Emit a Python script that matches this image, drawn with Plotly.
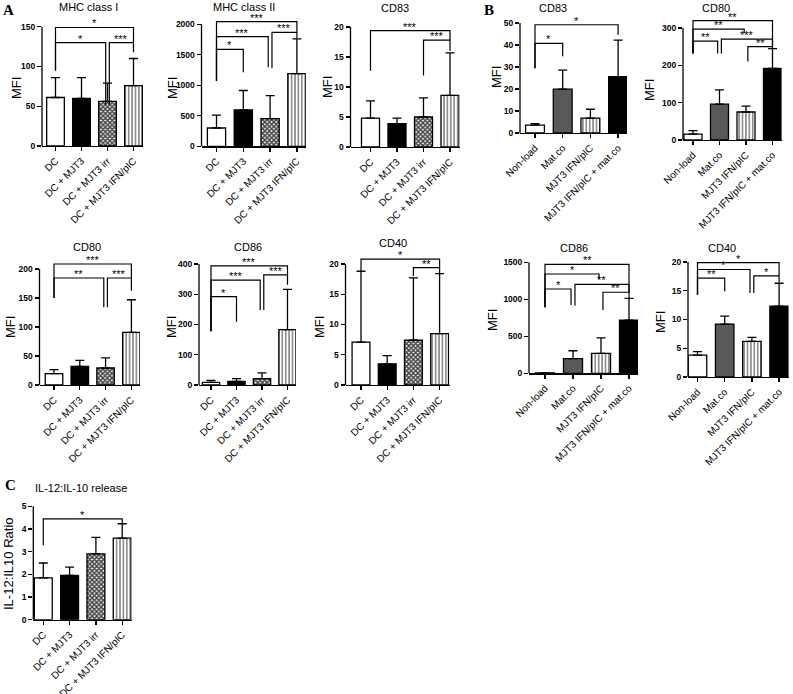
import plotly.graph_objects as go

W, H = 793, 694

# ---------------- data ----------------
cats_A = ["DC", "DC + MJT3", "DC + MJT3 irr", "DC + MJT3 IFN/pIC"]
cats_B = ["Non-load", "Mat.co", "MJT3 IFN/pIC", "MJT3 IFN/pIC + mat.co"]

# Panel A (MFI mean and upper error)
a_mhc1_mean = [61, 60, 56, 76]
a_mhc1_err = [25, 26, 23, 34]
a_mhc2_mean = [300, 595, 455, 1190]
a_mhc2_err = [212, 320, 377, 570]
a_cd83_mean = [4.8, 3.9, 5.0, 8.6]
a_cd83_err = [2.9, 0.9, 3.2, 7.1]
a_cd80_mean = [19.5, 32.2, 29.3, 90.8]
a_cd80_err = [6.9, 10.3, 17.3, 56.2]
a_cd86_mean = [9, 12, 21, 183]
a_cd86_err = [6, 9, 19, 133]
a_cd40_mean = [7.1, 3.5, 7.4, 8.5]
a_cd40_err = [11.7, 1.35, 10.3, 9.9]

# Panel B
b_cd83_mean = [3.6, 19.9, 6.8, 25.6]
b_cd83_err = [0.7, 8.7, 4.0, 16.6]
b_cd80_mean = [16, 96, 75, 192]
b_cd80_err = [9, 38, 16, 53]
b_cd86_mean = [5, 199, 270, 717]
b_cd86_err = [0, 106, 208, 296]
b_cd40_mean = [3.8, 9.2, 6.2, 12.3]
b_cd40_err = [0.6, 1.4, 0.7, 4.0]

# Panel C
c_ratio_mean = [1.84, 1.95, 2.9, 3.6]
c_ratio_err = [0.66, 0.37, 0.73, 0.63]

# significance brackets: (from bar, to bar, line level, left leg end, right leg end, label)
a_mhc1_sig = [(0, 3, 149, 95, 130, "*"), (0, 2, 130, 95, 52, "*"), (2, 3, 130, 52, 118, "***")]
a_mhc2_sig = [(0, 3, 2043, 1070, 1869, "***"), (0, 2, 1797, 1070, 1295, "***"),
              (0, 1, 1590, 1070, 1213, "*"), (2, 3, 1869, 1279, 1770, "***")]
a_cd83_sig = [(0, 3, 19.4, 12.7, 17.8, "***"), (2, 3, 17.8, 11.9, 16.0, "***")]
a_cd80_sig = [(0, 3, 208.6, 150, 184.5, "***"), (0, 2, 184.5, 150, 134, "**"),
              (2, 3, 184.5, 134, 162.6, "***")]
a_cd86_sig = [(0, 3, 394, 178, 364, "***"), (0, 2, 347, 178, 248, "***"),
              (0, 1, 292, 178, 209, "*"), (2, 3, 364, 248, 331, "***")]
a_cd40_sig = [(0, 3, 20.8, 18.8, 19.4, "*"), (2, 3, 19.4, 18.0, 18.4, "**")]
b_cd83_sig = [(0, 1, 40.7, 29.4, 34.9, "*"), (0, 3, 49.2, 29.4, 44.7, "*")]
b_cd80_sig = [(0, 3, 320, 232, 250, "**"), (0, 2, 297, 232, 286, "**"),
              (0, 1, 265, 232, 232, "**"), (1, 3, 270, 232, 250, "***"),
              (2, 3, 250, 210, 245, "**")]
b_cd86_sig = [(0, 3, 1473, 892, 1095, "**"), (0, 2, 1342, 892, 1274, "*"),
              (0, 1, 1139, 892, 923, "*"), (1, 3, 1203, 914, 1095, "**"),
              (2, 3, 1095, 855, 1014, "**")]
b_cd40_sig = [(0, 3, 19.9, 14.3, 17.6, "*"), (0, 2, 18.7, 14.3, 14.6, "*"),
              (0, 1, 17.2, 14.3, 14.9, "**"), (2, 3, 17.6, 14.6, 16.4, "*")]
c_ratio_sig = [(0, 3, 4.45, 3.28, 4.25, "*")]

# ---------------- styles ----------------
FONT = "Liberation Sans, Arial, Helvetica, sans-serif"
style_A = dict(colors=["white", "black", "white", "white"], shapes=["", "", "x", "|"],
               psize=[4, 4, 3.2, 3.4], psol=[0.3, 0.3, 0.7, 0.3])
style_B = dict(colors=["white", "#595959", "white", "black"], shapes=["", "", "|", ""],
               psize=[4, 4, 3.4, 4], psol=[0.3, 0.3, 0.3, 0.3])

# geometry in pixels: (y-axis x, first bar centre, bar spacing, x-axis end, y of 0, y of top tick)
panels = [
    dict(title="MHC class I", cats=cats_A, mean=a_mhc1_mean, err=a_mhc1_err, sig=a_mhc1_sig,
         ymax=150, dtick=50, style=style_A, geo=(42, 55.5, 26.0, 143, 146, 26.7),
         tpos=(88, 7), lpos=(16, 88), ylab="MFI", cfs=10),
    dict(title="MHC class II", cats=cats_A, mean=a_mhc2_mean, err=a_mhc2_err, sig=a_mhc2_sig,
         ymax=2000, dtick=500, style=style_A, geo=(201.5, 216.5, 26.8, 306, 146.3, 24.3),
         tpos=(244, 7), lpos=(172, 88), ylab="MFI", cfs=10),
    dict(title="CD83", cats=cats_A, mean=a_cd83_mean, err=a_cd83_err, sig=a_cd83_sig,
         ymax=20, dtick=5, style=style_A, geo=(350.5, 370.5, 26.5, 459.5, 147, 27),
         tpos=(395, 8), lpos=(328, 87), ylab="MFI", cfs=10),
    dict(title="CD83", cats=cats_B, mean=b_cd83_mean, err=b_cd83_err, sig=b_cd83_sig,
         ymax=50, dtick=10, style=style_B, geo=(520, 535, 27.7, 627, 133, 23),
         tpos=(553, 8), lpos=(496, 77), ylab="MFI", cfs=10),
    dict(title="CD80", cats=cats_B, mean=b_cd80_mean, err=b_cd80_err, sig=b_cd80_sig,
         ymax=300, dtick=100, style=style_B, geo=(683, 693, 26.5, 781.5, 140, 28),
         tpos=(716, 8), lpos=(649, 90), ylab="MFI", cfs=10),
    dict(title="CD80", cats=cats_A, mean=a_cd80_mean, err=a_cd80_err, sig=a_cd80_sig,
         ymax=200, dtick=50, style=style_A, geo=(39.5, 54, 25.8, 140, 385, 269),
         tpos=(87, 247), lpos=(11, 327), ylab="MFI", cfs=10),
    dict(title="CD86", cats=cats_A, mean=a_cd86_mean, err=a_cd86_err, sig=a_cd86_sig,
         ymax=400, dtick=100, style=style_A, geo=(199, 211, 25.5, 296, 385, 264),
         tpos=(248, 247), lpos=(172, 327), ylab="MFI", cfs=10),
    dict(title="CD40", cats=cats_A, mean=a_cd40_mean, err=a_cd40_err, sig=a_cd40_sig,
         ymax=20, dtick=5, style=style_A, geo=(345.5, 361, 26.2, 449.5, 385, 264),
         tpos=(393, 243), lpos=(320, 327), ylab="MFI", cfs=10),
    dict(title="CD86", cats=cats_B, mean=b_cd86_mean, err=b_cd86_err, sig=b_cd86_sig,
         ymax=1500, dtick=500, style=style_B, geo=(529, 545, 28, 638, 373.3, 262.3),
         tpos=(574, 248), lpos=(492, 320), ylab="MFI", cfs=10),
    dict(title="CD40", cats=cats_B, mean=b_cd40_mean, err=b_cd40_err, sig=b_cd40_sig,
         ymax=20, dtick=5, style=style_B, geo=(688, 697.5, 27.2, 788.5, 377, 262),
         tpos=(722, 248), lpos=(661, 322), ylab="MFI", cfs=10),
    dict(title="IL-12:IL-10 release", cats=cats_A, mean=c_ratio_mean, err=c_ratio_err, sig=c_ratio_sig,
         ymax=5, dtick=1, style=style_A, geo=(33.3, 43.3, 26.3, 131.5, 619.7, 506.3),
         tpos=(80.5, 488), lpos=(8, 564), ylab="IL-12:IL10 Ratio", cfs=10),
]

fig = go.Figure()
shapes = []
annots = []
LW = 1.3

for k, p in enumerate(panels, start=1):
    sfx = "" if k == 1 else str(k)
    xa, ya = "x" + sfx, "y" + sfx
    left, c0, sp, right, y0, yt = p["geo"]
    off = (c0 - left) / sp
    rr = (right - c0) / sp
    ymax = p["ymax"]
    btop = max([b[2] for b in p["sig"]] + [ymax])
    rtop = btop * 1.03
    ytop_px = y0 - (y0 - yt) * rtop / ymax
    st = p["style"]
    n = len(p["cats"])
    xs = list(range(n))
    fig.add_trace(go.Bar(
        x=xs, y=p["mean"], width=0.68, xaxis=xa, yaxis=ya, showlegend=False, hoverinfo="skip",
        marker=dict(color=st["colors"], line=dict(color="black", width=LW),
                    pattern=dict(shape=st["shapes"], fillmode="overlay", fgcolor="black",
                                 fgopacity=1, size=st["psize"], solidity=st["psol"])),
        error_y=dict(type="data", symmetric=False, array=p["err"], arrayminus=[0] * n,
                     color="black", thickness=LW, width=4.5),
    ))
    fig.update_layout(**{
        "xaxis" + sfx: dict(domain=[left / W, right / W], range=[-off, rr], anchor=ya,
                            automargin=False,
                            tickmode="array", tickvals=xs, ticktext=p["cats"], tickangle=-45,
                            ticks="outside", ticklen=4, tickwidth=LW, tickcolor="black",
                            showline=True, linecolor="black", linewidth=LW,
                            showgrid=False, zeroline=False, fixedrange=True,
                            tickfont=dict(family=FONT, size=p["cfs"], color="black")),
        "yaxis" + sfx: dict(domain=[1 - y0 / H, 1 - ytop_px / H], range=[0, rtop], anchor=xa,
                            automargin=False,
                            tickmode="array",
                            tickvals=[v * p["dtick"] for v in range(int(round(ymax / p["dtick"])) + 1)],
                            ticks="outside", ticklen=4, tickwidth=LW, tickcolor="black",
                            showline=False, showgrid=False, zeroline=False, fixedrange=True,
                            tickfont=dict(family=FONT, size=8.5, color="black", weight="bold")),
    })
    # y axis line (stops at the top tick)
    shapes.append(dict(type="line", xref="paper", yref=ya, x0=left / W, x1=left / W,
                       y0=0, y1=ymax, line=dict(color="black", width=LW)))
    # brackets
    starts = [b[0] for b in p["sig"]]
    ends = [b[1] for b in p["sig"]]
    d = 0.07
    for (i, j, yl, ya_l, ya_r, lab) in p["sig"]:
        xi = i + (d if i in ends else 0)
        xj = j - (d if j in starts else 0)
        path = f"M{xi},{ya_l} L{xi},{yl} L{xj},{yl} L{xj},{ya_r}"
        shapes.append(dict(type="path", xref=xa, yref=ya, path=path,
                           line=dict(color="black", width=1.2)))
        annots.append(dict(x=(xi + xj) / 2, y=yl, xref=xa, yref=ya, text=lab, showarrow=False,
                           yanchor="bottom", yshift=-4,
                           font=dict(family=FONT, size=11, color="black")))
    # title and axis label
    annots.append(dict(x=p["tpos"][0] / W, y=1 - p["tpos"][1] / H, xref="paper", yref="paper",
                       text=p["title"], showarrow=False, xanchor="center", yanchor="middle",
                       font=dict(family=FONT, size=11, color="black")))
    annots.append(dict(x=p["lpos"][0] / W, y=1 - p["lpos"][1] / H, xref="paper", yref="paper",
                       text=p["ylab"], showarrow=False, xanchor="center", yanchor="middle",
                       textangle=-90, font=dict(family=FONT, size=13, color="black")))

for letter, (px, py) in {"A": (8, 10), "B": (489, 10), "C": (10, 485)}.items():
    annots.append(dict(x=px / W, y=1 - py / H, xref="paper", yref="paper", text=letter,
                       showarrow=False, xanchor="center", yanchor="middle",
                       font=dict(family="Liberation Serif, Times New Roman, serif", size=15,
                                 color="black", weight="bold")))

fig.update_layout(template="none", width=W, height=H, margin=dict(l=0, r=0, t=0, b=0, pad=0),
                  paper_bgcolor="white", plot_bgcolor="rgba(0,0,0,0)",
                  shapes=shapes, annotations=annots, bargap=0)

fig.write_html("out.html", config={"displayModeBar": False, "staticPlot": True},
               post_script="document.body.style.margin='0';document.body.style.overflow='hidden';")
